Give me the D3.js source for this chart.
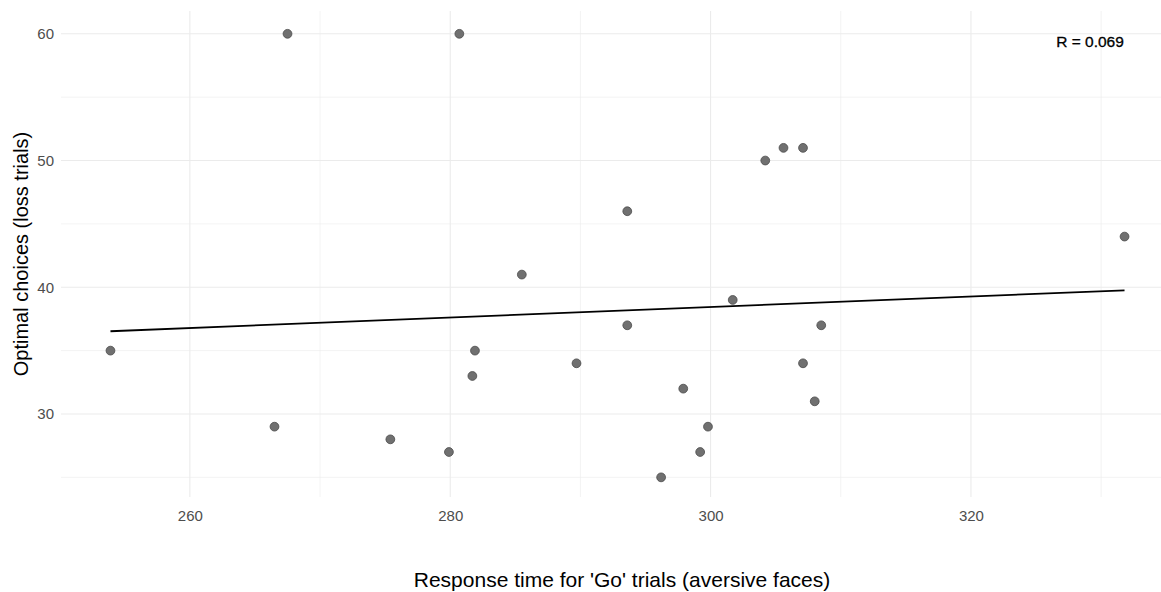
<!DOCTYPE html>
<html>
<head>
<meta charset="utf-8">
<script src="https://cdn.jsdelivr.net/npm/d3@7"></script>
<style>
  body { margin: 0; background: #fff; }
  text { font-family: "Liberation Sans", Arial, sans-serif; }
</style>
</head>
<body>
<div class="chart"></div>
<script>
// response time for 'Go' trials (aversive faces)
const responseTime = [253.9, 267.5, 280.7, 266.5, 275.4, 279.9, 281.7, 281.9,
  285.5, 289.7, 293.6, 293.6, 296.2, 297.9, 299.2, 299.8, 301.7, 304.2,
  305.6, 307.1, 307.1, 308.0, 308.5, 331.8];
// optimal choices (loss trials)
const optimalChoices = [35, 60, 60, 29, 28, 27, 33, 35,
  41, 34, 46, 37, 25, 32, 27, 29, 39, 50,
  51, 51, 34, 31, 37, 44];

const xMajor = [260, 280, 300, 320];
const xMinor = [270, 290, 310, 330];
const yMajor = [30, 40, 50, 60];
const yMinor = [25, 35, 45, 55];
const corrLabel = "R = 0.069";

const W = 1161, H = 592;
const panel = {left: 61, right: 1161, top: 11, bottom: 497};

const svg = d3.select(".chart").append("svg")
  .attr("width", W)
  .attr("height", H);

const x = d3.scaleLinear().domain([250.1, 334.6]).range([panel.left, panel.right]);
const y = d3.scaleLinear().domain([23.45, 61.8]).range([panel.bottom, panel.top]);

// grid
const grid = svg.append("g");
grid.selectAll(".vmin").data(xMinor.filter(d => x(d) <= panel.right)).enter().append("line")
  .attr("x1", d => x(d)).attr("x2", d => x(d))
  .attr("y1", panel.top).attr("y2", panel.bottom)
  .attr("stroke", "#ebebeb").attr("stroke-width", 0.6);
grid.selectAll(".hmin").data(yMinor).enter().append("line")
  .attr("x1", panel.left).attr("x2", panel.right)
  .attr("y1", d => y(d)).attr("y2", d => y(d))
  .attr("stroke", "#ebebeb").attr("stroke-width", 0.6);
grid.selectAll(".vmaj").data(xMajor).enter().append("line")
  .attr("x1", d => x(d)).attr("x2", d => x(d))
  .attr("y1", panel.top).attr("y2", panel.bottom)
  .attr("stroke", "#ebebeb").attr("stroke-width", 1.1);
grid.selectAll(".hmaj").data(yMajor).enter().append("line")
  .attr("x1", panel.left).attr("x2", panel.right)
  .attr("y1", d => y(d)).attr("y2", d => y(d))
  .attr("stroke", "#ebebeb").attr("stroke-width", 1.1);

// axes (no domain lines, no ticks - labels only)
const xAxis = d3.axisBottom(x).tickValues(xMajor).tickSize(0).tickPadding(0);
const yAxis = d3.axisLeft(y).tickValues(yMajor).tickSize(0).tickPadding(0);

svg.append("g")
  .attr("transform", `translate(0, ${panel.bottom + 24})`)
  .call(xAxis)
  .call(g => g.select(".domain").remove())
  .selectAll("text")
  .attr("font-size", 15).attr("fill", "#4d4d4d")
  .attr("font-family", "Liberation Sans, Arial, sans-serif")
  .attr("dy", 0);

svg.append("g")
  .attr("transform", `translate(${panel.left - 7}, 0)`)
  .call(yAxis)
  .call(g => g.select(".domain").remove())
  .selectAll("text")
  .attr("font-size", 15).attr("fill", "#4d4d4d")
  .attr("font-family", "Liberation Sans, Arial, sans-serif");

// axis titles
svg.append("text")
  .attr("x", 622).attr("y", 587)
  .attr("text-anchor", "middle")
  .attr("font-size", 21).attr("fill", "#000")
  .text("Response time for 'Go' trials (aversive faces)");

svg.append("text")
  .attr("transform", `translate(28, ${(panel.top + panel.bottom) / 2}) rotate(-90)`)
  .attr("text-anchor", "middle")
  .attr("font-size", 20).attr("fill", "#000")
  .text("Optimal choices (loss trials)");

// linear fit
const n = responseTime.length;
const mx = d3.mean(responseTime), my = d3.mean(optimalChoices);
let sxy = 0, sxx = 0;
for (let i = 0; i < n; i++) {
  sxy += (responseTime[i] - mx) * (optimalChoices[i] - my);
  sxx += (responseTime[i] - mx) ** 2;
}
const slope = sxy / sxx, intercept = my - slope * mx;
const xExt = d3.extent(responseTime);

svg.append("line")
  .attr("x1", x(xExt[0])).attr("y1", y(intercept + slope * xExt[0]))
  .attr("x2", x(xExt[1])).attr("y2", y(intercept + slope * xExt[1]))
  .attr("stroke", "#000").attr("stroke-width", 1.8);

// points
svg.selectAll("circle")
  .data(responseTime.map((d, i) => [d, optimalChoices[i]]))
  .enter().append("circle")
  .attr("cx", d => x(d[0]))
  .attr("cy", d => y(d[1]))
  .attr("r", 4.4)
  .attr("fill", "#707070")
  .attr("stroke", "#4a4a4a")
  .attr("stroke-width", 0.8);

// correlation label
svg.append("text")
  .attr("x", 1090).attr("y", 47)
  .attr("text-anchor", "middle")
  .attr("font-size", 15.5).attr("fill", "#000")
  .attr("stroke", "#000").attr("stroke-width", 0.3)
  .text(corrLabel);
</script>
</body>
</html>
